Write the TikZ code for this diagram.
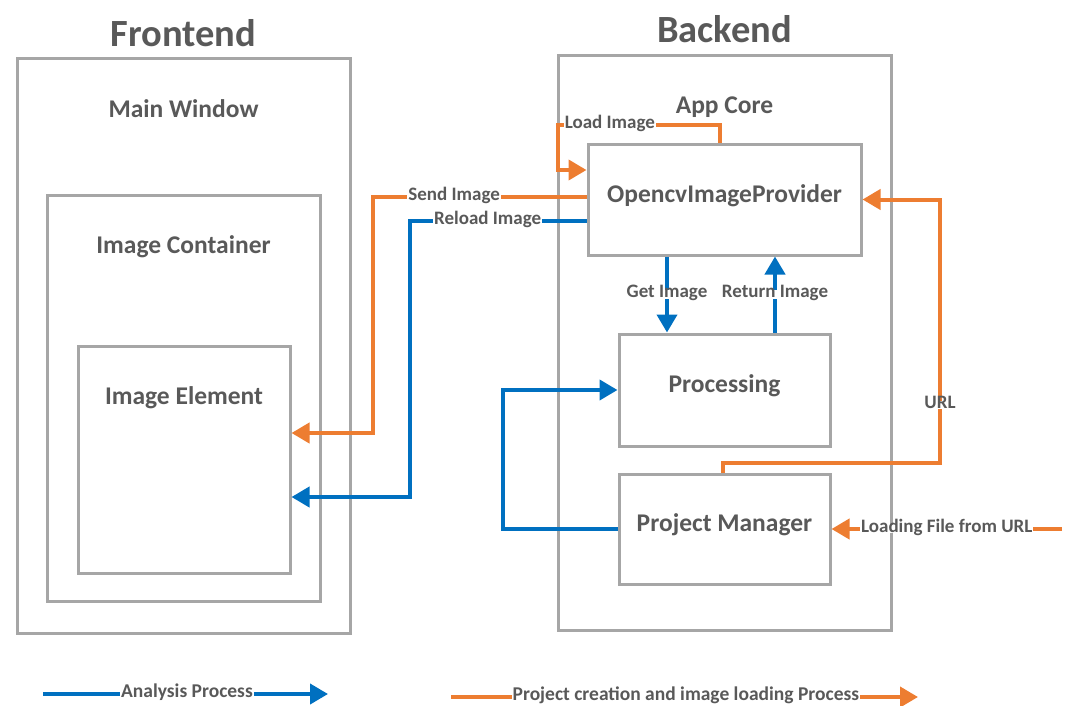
\documentclass[tikz,border=0pt]{standalone}
\usepackage{fontspec}
\setmainfont{Carlito}
\usetikzlibrary{arrows.meta,positioning}

\definecolor{boxgray}{HTML}{A6A6A6}
\definecolor{txtgray}{HTML}{595959}
\definecolor{flowblue}{HTML}{0070C0}
\definecolor{floworange}{HTML}{ED7D31}

\begin{document}
\begin{tikzpicture}[x=1pt,y=-1pt,
    box/.style={draw=boxgray,line width=3pt,inner sep=0pt,text=txtgray,
      font=\fontsize{25.5}{30}\selectfont\bfseries,text height=16pt,text depth=11pt},
    pagehead/.style={text=txtgray,inner sep=0pt,font=\fontsize{38.5}{44}\selectfont\bfseries,text depth=0pt},
    boxtitle/.style={text=txtgray,inner sep=0pt,font=\fontsize{25.5}{30}\selectfont\bfseries,text height=16pt,text depth=5pt},
    lbl/.style={fill=white,text=txtgray,inner sep=1pt,font=\fontsize{19}{21}\selectfont\bfseries,
      text height=1.38ex,text depth=0pt},
    keylbl/.style={lbl,font=\fontsize{19.5}{22}\selectfont\bfseries},
    flow/.style={line width=4pt,-{Triangle[length=18pt,width=20pt]}},
    blueflow/.style={flow,draw=flowblue},
    orangeflow/.style={flow,draw=floworange}]

    \useasboundingbox (0,0) rectangle (1070,706);

    %frontend boxes
    \node[box,minimum width=333pt,minimum height=574pt] (fe_box) at (183.5,346) {};
    \node[box,minimum width=273pt,minimum height=406pt] (img_cont) at (183.5,398) {};
    \node[box,minimum width=212pt,minimum height=227pt] (img_elem) at (184,459.5) {};
    \node[pagehead] (fe_t) [above=11pt of fe_box.north] {Frontend};
    \node[boxtitle] (mw_t) [below=44pt of fe_box.north] {Main Window};
    \node[boxtitle] (ic_t) [below=44pt of img_cont.north] {Image Container};
    \node[boxtitle] (ie_t) [below=44pt of img_elem.north] {Image Element};

    %backend boxes
    \node[box,minimum width=333pt,minimum height=574pt] (be_box) at (724.5,343) {};
    \node[box,minimum width=273pt,minimum height=111pt] (ocv) at (724.5,199.5) {OpencvImageProvider};
    \node[box,minimum width=211pt,minimum height=112pt] (proc) at (724.5,390) {Processing};
    \node[box,minimum width=211pt,minimum height=110pt] (pm) at (724.5,529) {Project Manager};
    \node[pagehead] (be_t) [above=12pt of be_box.north] {Backend};
    \node[boxtitle] (ac_t) [below=43pt of be_box.north] {App Core};

    %bends
    \coordinate (load_c) at (558,125);
    \coordinate (send_c) at (373,433);
    \coordinate (reload_c) at (410,497);
    \coordinate (loop_c) at (503,390);
    \coordinate (url_c) at (940,463);
    \coordinate (file_src) at (1062,529);

    %loading path
    \draw[orangeflow]
    ([xshift=-4.5pt]ocv.north) |- node[lbl,pos=0.84] {Load Image} (load_c)
      |- ([yshift=29.5pt]ocv.west);
    \draw[orangeflow]
    ([yshift=2.5pt]ocv.west) -| node[lbl,pos=0.31] {Send Image} (send_c)
      -- ([yshift=26.5pt]img_elem.east);
    \draw[orangeflow]
    ([xshift=-1.5pt]pm.north) |- (url_c) |- node[lbl,pos=0.11] {URL} (ocv.east);
    \draw[orangeflow]
    (file_src) -- node[lbl] {Loading File from URL} (pm.east);

    %analysis path
    \draw[blueflow]
    ([yshift=-21.5pt]ocv.west) -| node[lbl,pos=0.28] {Reload Image} (reload_c)
      -- ([yshift=-37.5pt]img_elem.east);
    \draw[blueflow]
    ([xshift=-57.5pt]ocv.south) -- node[lbl] {Get Image} ([xshift=-57.5pt]proc.north);
    \draw[blueflow]
    ([xshift=50.5pt]proc.north) -- node[lbl] {Return Image} ([xshift=50.5pt]ocv.south);
    \draw[blueflow]
    (pm.west) -| (loop_c) -- (proc.west);

    %legend
    \coordinate (lg_b0) at (43,694);
    \coordinate (lg_b1) at (328,694);
    \coordinate (lg_o0) at (451,697);
    \coordinate (lg_o1) at (918,697);
    \draw[blueflow] (lg_b0) -- node[keylbl,pos=0.505] {Analysis Process} (lg_b1);
    \draw[orangeflow] (lg_o0) -- node[keylbl,pos=0.503] {Project creation and image loading Process} (lg_o1);

\end{tikzpicture}
\end{document}
